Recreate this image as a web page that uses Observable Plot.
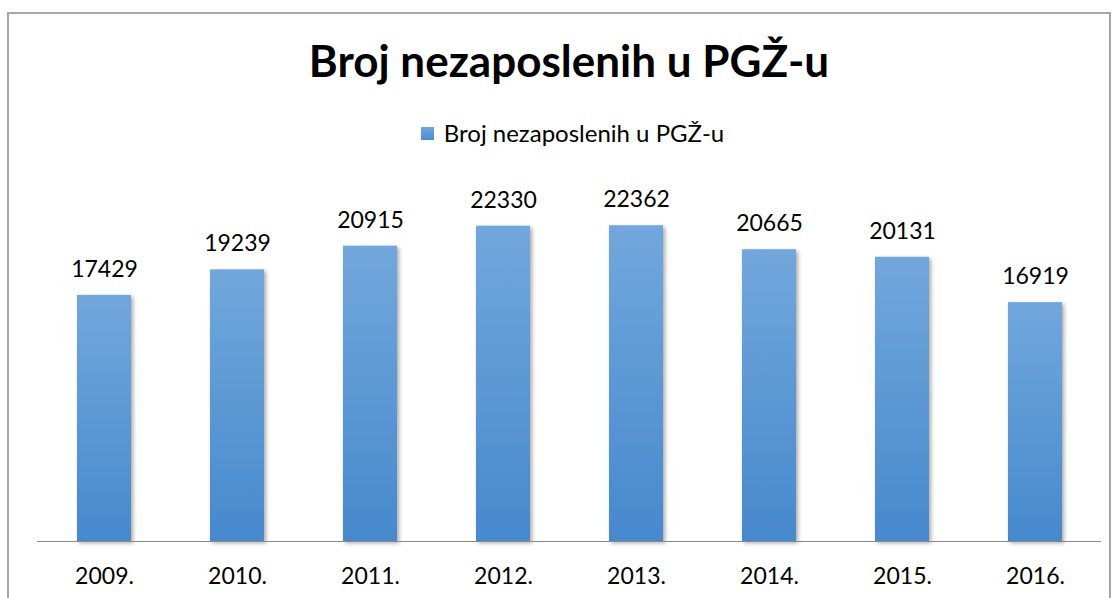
<!DOCTYPE html>
<html>
<head>
<meta charset="utf-8">
<script src="https://cdn.jsdelivr.net/npm/d3@7"></script>
<script src="https://cdn.jsdelivr.net/npm/@observablehq/plot@0.6"></script>
<style>
  html, body { margin: 0; padding: 0; background: #fff; }
  #wrap { position: relative; width: 1117px; height: 598px; overflow: hidden; font-family: Lato, sans-serif; }
  #frame { position: absolute; left: 7px; top: 12px; width: 1104px; height: 700px; border: 2px solid #a6a6a6; box-sizing: border-box; }
  #title { position: absolute; left: 0; width: 1138px; text-align: center; top: 38px; font-size: 44px; line-height: 44px; font-weight: bold; color: #000; }
  #legend { position: absolute; left: 0; width: 1145px; top: 121px; display: flex; justify-content: center; align-items: center; font-size: 24px; line-height: 24px; color: #000; }
  #legend .sw { width: 13px; height: 13px; background: linear-gradient(#72a7dc, #4a8bcf); margin-right: 10px; }
  #chart { position: absolute; left: 0; top: 150px; }
</style>
</head>
<body>
<div id="wrap">
  <div id="frame"></div>
  <div id="title">Broj nezaposlenih u PGŽ-u</div>
  <div id="legend"><div class="sw"></div><span>Broj nezaposlenih u PGŽ-u</span></div>
  <div id="chart"></div>
</div>
<script>
const years = ["2009.", "2010.", "2011.", "2012.", "2013.", "2014.", "2015.", "2016."];
const values = [17429, 19239, 20915, 22330, 22362, 20665, 20131, 16919];
const data = years.map((y, i) => ({year: y, value: values[i]}));

const plot = Plot.plot({
  width: 1117,
  height: 448,
  marginLeft: 37,
  marginRight: 16,
  marginTop: 38,
  marginBottom: 57,
  style: {fontFamily: "Lato, sans-serif", background: "transparent", overflow: "visible"},
  x: {domain: years, paddingInner: 0.594, paddingOuter: 0.297, label: null},
  y: {domain: [0, 25000], axis: null},
  marks: [
    Plot.barY(data, {x: "year", y: "value", fill: "url(#barGrad)"}),
    Plot.ruleY([0], {stroke: "#898989", strokeWidth: 1.2}),
    Plot.text(data, {x: "year", y: "value", text: d => String(d.value), dy: -26, fontSize: 23, fill: "#000"}),
    Plot.axisX({tickSize: 0, tickPadding: 26, fontSize: 23, fill: "#000", label: null})
  ]
});

const ns = "http://www.w3.org/2000/svg";
const defs = document.createElementNS(ns, "defs");
defs.innerHTML = `
  <linearGradient id="barGrad" x1="0" y1="0" x2="0" y2="1">
    <stop offset="0" stop-color="#72a7dc"/>
    <stop offset="1" stop-color="#4689cd"/>
  </linearGradient>
  <filter id="shadow" x="-20%" y="-5%" width="150%" height="115%">
    <feDropShadow dx="2" dy="2" stdDeviation="2" flood-color="#000" flood-opacity="0.35"/>
  </filter>`;
plot.insertBefore(defs, plot.firstChild);
const barG = plot.querySelector("g[aria-label='bar']");
if (barG) barG.setAttribute("filter", "url(#shadow)");
document.getElementById("chart").appendChild(plot);
</script>
</body>
</html>
